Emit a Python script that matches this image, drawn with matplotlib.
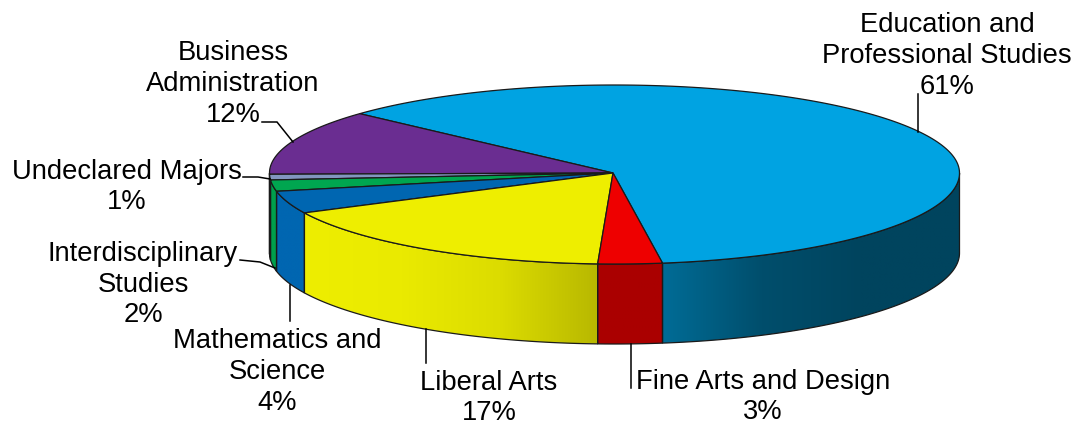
import numpy as np
import matplotlib
matplotlib.use("Agg")
import matplotlib.pyplot as plt
from matplotlib.patches import Polygon
from matplotlib.colors import LinearSegmentedColormap

plt.rcParams['font.family'] = ['Liberation Sans', 'DejaVu Sans']

# ---- data (counter-clockwise on screen, starting from the front right)
categories = ["Education and\nProfessional Studies", "Business\nAdministration",
              "Undeclared Majors", "Interdisciplinary\nStudies",
              "Mathematics and\nScience", "Liberal Arts", "Fine Arts and Design"]
values = [61, 12, 1, 2, 4, 17, 3]

# ---- style
top_colors = ["#00a3e2", "#6a2d91", "#8296bf", "#00a650", "#0066b1", "#eeee00", "#ee0000"]
wall_stops = [["#006c96", "#004e6c", "#00445e", "#00445e"],
              ["#4a1f66", "#4a1f66"],
              ["#5f6f8c", "#5f6f8c"],
              ["#00a04c", "#00a04c"],
              ["#0066b1", "#0066b1"],
              ["#eeee00", "#eaea00", "#dcdc00", "#b8b800"],
              ["#aa0000", "#aa0000"]]
CX, CY, RX, RY_FRONT, RY_BACK, DEPTH = 614.5, 173.0, 345.0, 91.0, 88.0, 80.0
START = 8.0
EDGE = "#1a1a1a"
FS = 19.7

label_pos = [(947, 56), (233, 84), (127, 187), (143, 284.5), (277, 372), (489, 398), (763, 397)]
pct_text = [f"{v}%" for v in values]
leaders = [[(918, 132), (918, 94)],
           [(293, 142), (277, 122), (262, 122)],
           [(270, 179), (258, 177), (243, 177)],
           [(275, 268), (260, 262), (240, 260)],
           [(289.5, 285), (289.5, 321)],
           [(426, 329), (426, 363)],
           [(631, 344), (631, 388)]]


def rim(t_deg):
    t = np.radians(t_deg)
    c = np.cos(t)
    return CX + RX * np.sin(t), CY + np.where(c >= 0, RY_FRONT, RY_BACK) * c


fig = plt.figure(figsize=(10.75, 4.25), dpi=100)
ax = fig.add_axes([0, 0, 1, 1])
ax.axis("off")

edges = START + np.concatenate([[0], np.cumsum(values)]) / np.sum(values) * 360.0

# walls: only the part of each slice facing the viewer (t in [-90, 90] modulo 360)
for i in range(len(values)):
    a0, a1 = edges[i], edges[i + 1]
    for lo_w, hi_w in [(-90, 90), (270, 450)]:
        lo, hi = max(a0, lo_w), min(a1, hi_w)
        if hi > lo:
            ts = np.linspace(lo, hi, 120)
            x, y = rim(ts)
            poly = np.vstack([np.column_stack([x, y]),
                              np.column_stack([x[::-1], y[::-1] + DEPTH])])
            patch = Polygon(poly, closed=True, fc="none", ec="none")
            ax.add_patch(patch)
            cmap = LinearSegmentedColormap.from_list(f"w{i}", wall_stops[i])
            im = ax.imshow(np.linspace(0, 1, 256)[None, :], cmap=cmap, aspect="auto",
                           extent=(x.min(), x.max(), y.max() + DEPTH, y.min()),
                           interpolation="bilinear", zorder=1)
            im.set_clip_path(patch)
            ax.add_patch(Polygon(poly, closed=True, fc="none", ec=EDGE, lw=0.9, zorder=2))

# top faces
for i in range(len(values)):
    ts = np.linspace(edges[i], edges[i + 1], 200)
    x, y = rim(ts)
    poly = np.vstack([[CX - 1.5, CY], np.column_stack([x, y])])
    ax.add_patch(Polygon(poly, closed=True, fc=top_colors[i], ec=EDGE, lw=0.9, zorder=3))

# labels
for i in range(len(values)):
    ax.text(label_pos[i][0], label_pos[i][1], categories[i] + "\n" + pct_text[i],
            ha="center", va="center", fontsize=FS, color="black",
            linespacing=1.24, zorder=5)
    xs, ys = zip(*leaders[i])
    ax.plot(xs, ys, color="black", lw=1.1, zorder=4, solid_joinstyle="miter")

ax.set_xlim(0, 1075)
ax.set_ylim(425, 0)
fig.savefig("out.png", dpi=100, facecolor="white")
